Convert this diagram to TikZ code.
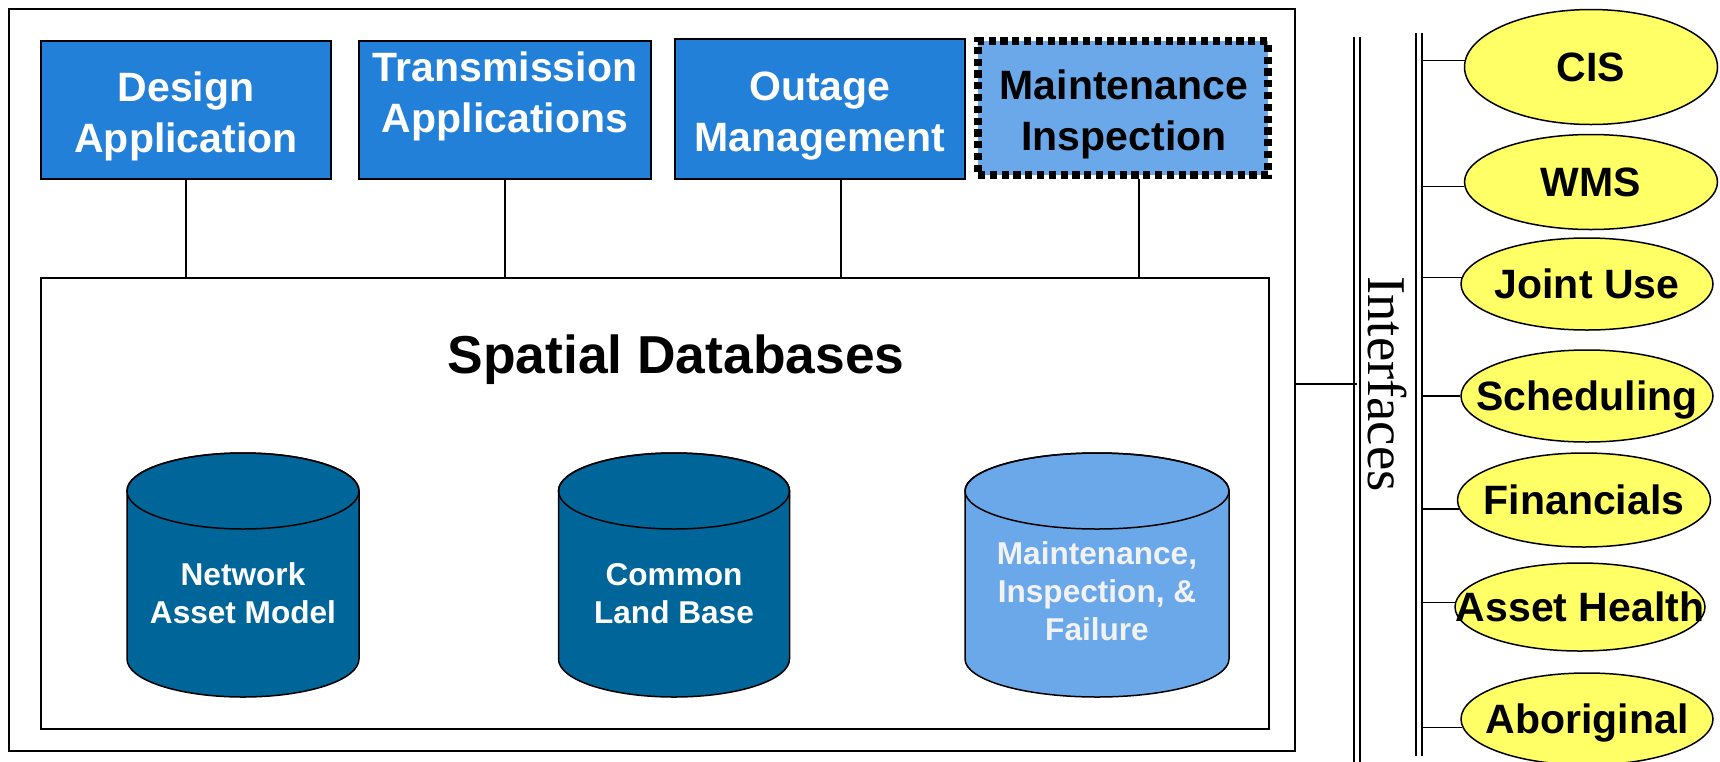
\documentclass[tikz,border=0pt]{standalone}
\usepackage{fontspec}
\setmainfont{Liberation Sans}
\newfontfamily\serifface{Liberation Serif}
\usetikzlibrary{calc,shapes.geometric}
\definecolor{topblue}{RGB}{35,128,217}
\definecolor{lightblue}{RGB}{106,168,234}
\definecolor{dbblue}{RGB}{0,101,153}
\definecolor{ellyellow}{RGB}{255,255,102}
\definecolor{paletext}{RGB}{242,242,242}
\begin{document}
\begin{tikzpicture}[x=0.5pt,y=-0.5pt,
  appbox/.style={draw=black, line width=1pt, fill=topblue, minimum width=145pt, minimum height=69pt, inner sep=0pt},
  maintbox/.style={draw=black, line width=4pt, dash pattern=on 3.6pt off 2.3pt, fill=lightblue, minimum width=145pt, minimum height=67pt, inner sep=0pt},
  apptext/.style={anchor=base, align=center, inner sep=0pt, font=\bfseries\fontsize{20.5}{25.5}\selectfont, text=white},
  dbtext/.style={anchor=base, align=center, inner sep=0pt, font=\bfseries\fontsize{15.8}{19}\selectfont, text=white},
  conn/.style={draw=black, line width=0.75pt},
  bar/.style={draw=black, line width=1pt},
  cyl/.style={draw=black, line width=0.75pt},
  iface/.style={ellipse, draw=black, line width=0.75pt, fill=ellyellow, inner sep=0pt},
  ifacetext/.style={font=\bfseries\fontsize{20.5}{24}\selectfont, text height=14.7pt, text depth=0pt, inner sep=0pt},
]
\useasboundingbox (0,0) rectangle (1720,761);
\fill[white] (0,0) rectangle (1720,761);

% outer frame and database container
\node[draw=black, line width=1pt, minimum width=643.25pt, minimum height=371pt, inner sep=0pt] (frame) at (651.75,380) {};
\node[draw=black, line width=1pt, minimum width=614.25pt, minimum height=225.5pt, inner sep=0pt] (db) at (655,503.5) {};

% application boxes
\node[appbox] (design) at (186,110) {};
\node[appbox, minimum width=146pt] (trans) at (505,110) {};
\node[appbox, minimum height=70pt] (outage) at (820,109) {};
\node[maintbox] (maint) at (1123,108) {};

\node[apptext] (designT) at (186,152) {Design\\Application};
\node[apptext] (transT) at (505,132) {Transmission\\Applications};
\node[apptext] (outT) at (820,151) {Outage\\Management};
\node[apptext, text=black] (maintT) at (1124,150) {Maintenance\\Inspection};

% connectors to database container
\draw[conn] (design.south) -- (design.south |- db.north);
\draw[conn] (trans.south) -- (trans.south |- db.north);
\draw[conn] ($(outage.south)+(21,0)$) -- ($(outage.south |- db.north)+(21,0)$);
\draw[conn] ($(maint.south)+(16,0)$) -- ($(maint.south |- db.north)+(16,0)$);

\node[anchor=base, inner sep=0pt, font=\bfseries\fontsize{26.7}{32}\selectfont] (sdT) at (676,373) {Spatial Databases};

% cylinders
\path[cyl, fill=dbblue] (127,491) -- (127,659) arc[start angle=180, end angle=360, x radius=58pt, y radius=19pt] -- (359,491) arc[start angle=0, end angle=180, x radius=58pt, y radius=19pt] -- cycle;
\draw[cyl] (243,491) ellipse[x radius=58pt, y radius=19pt];
\path[cyl, fill=dbblue] (558.5,491) -- (558.5,659) arc[start angle=180, end angle=360, x radius=57.75pt, y radius=19pt] -- (789.5,491) arc[start angle=0, end angle=180, x radius=57.75pt, y radius=19pt] -- cycle;
\draw[cyl] (674,491) ellipse[x radius=57.75pt, y radius=19pt];
\path[cyl, fill=lightblue] (965,491) -- (965,659) arc[start angle=180, end angle=360, x radius=66pt, y radius=19pt] -- (1229,491) arc[start angle=0, end angle=180, x radius=66pt, y radius=19pt] -- cycle;
\draw[cyl] (1097,491) ellipse[x radius=66pt, y radius=19pt];

\node[dbtext] (namT) at (243,623) {Network\\Asset Model};
\node[dbtext] (clbT) at (674,623) {Common\\Land Base};
\node[dbtext, text=paletext] (mifT) at (1097,640) {Maintenance,\\Inspection, \&\\Failure};

% interfaces bars
\coordinate (ifc) at (1357,384);
\coordinate (bus) at (1422,0);
\draw[bar] (1354,37) -- (1354,775);
\draw[bar] (1359.5,37) -- (1359.5,775);
\draw[bar] (1416,33) -- (1416,756);
\draw[bar] (1422,33) -- (1422,756);
\draw[conn] (frame.east |- ifc) -- (ifc);

\node[rotate=-90, anchor=base, inner sep=0pt, font=\serifface\fontsize{27.3}{33}\selectfont] (ifT) at (1368,384) {Interfaces};

% interface ellipses
\node[iface, minimum width=126.5pt, minimum height=57.5pt, label={[ifacetext]center:CIS}] (cis) at (1591,67) {};
\node[iface, minimum width=126.5pt, minimum height=47.5pt, label={[ifacetext]center:WMS}] (wms) at (1591,182) {};
\node[iface, minimum width=126pt, minimum height=46pt, label={[ifacetext]center:Joint Use}] (joint) at (1587,284) {};
\node[iface, minimum width=126pt, minimum height=46pt, label={[ifacetext]center:Scheduling}] (sched) at (1587,396) {};
\node[iface, minimum width=126.5pt, minimum height=47pt, label={[ifacetext]center:Financials}] (fin) at (1584,500) {};
\node[iface, minimum width=125pt, minimum height=44pt, label={[ifacetext]center:Asset Health}] (asset) at (1580,607) {};
\node[iface, minimum width=126pt, minimum height=46pt, label={[ifacetext]center:Aboriginal}] (abor) at (1587,719) {};

\draw[conn] (cis.177 -| bus) -- (cis.177);
\draw[conn] (wms.182 -| bus) -- (wms.182);
\draw[conn] (joint.177 -| bus) -- (joint.177);
\draw[conn] (sched.180 -| bus) -- (sched.180);
\draw[conn] (fin.184 -| bus) -- (fin.184);
\draw[conn] (asset.178 -| bus) -- (asset.178);
\draw[conn] (abor.184 -| bus) -- (abor.184);
\end{tikzpicture}
\end{document}
